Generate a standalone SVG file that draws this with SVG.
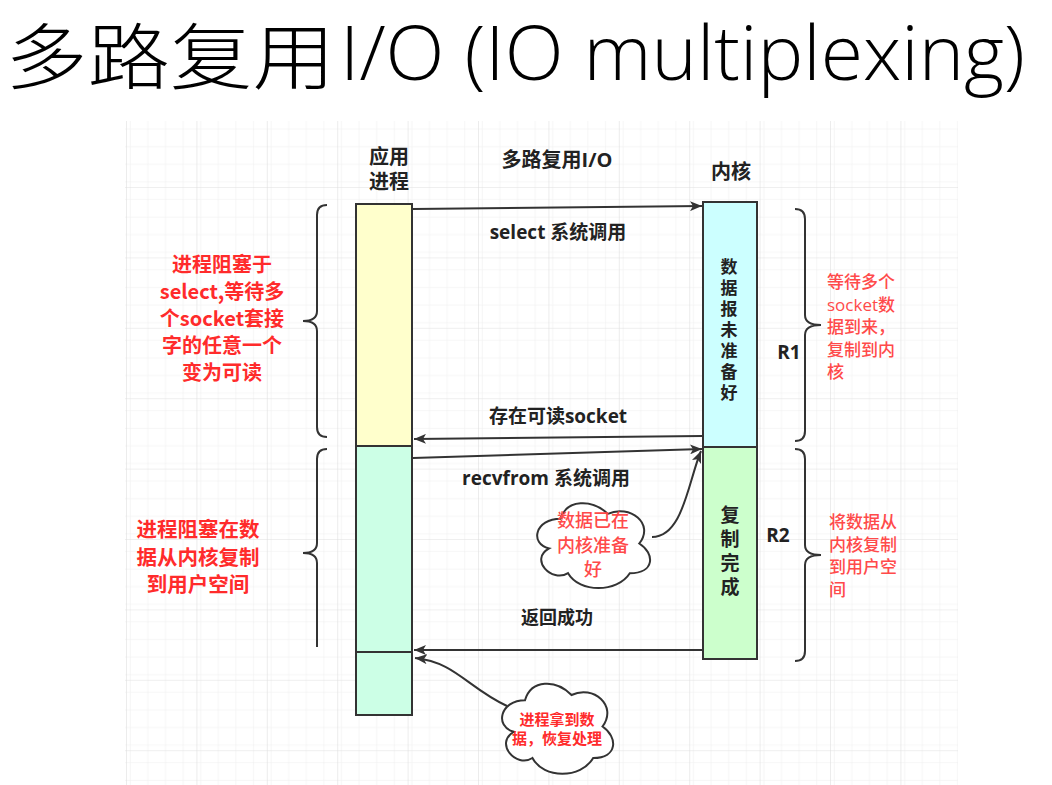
<svg xmlns="http://www.w3.org/2000/svg" width="1052" height="785" viewBox="0 0 1052 785">
<style>
.lbl{font-family:"Open Sans","Noto Sans CJK SC",sans-serif;font-weight:bold;fill:#222;}
.red{font-family:"Noto Sans CJK SC",sans-serif;font-weight:bold;fill:#ff2b2b;}
.red2{font-family:"Open Sans","Noto Sans CJK SC",sans-serif;font-weight:500;fill:#ff4a4a;}
.line{fill:none;stroke:#333;stroke-width:2;}
.brace{fill:none;stroke:#333;stroke-width:2;}
.box{stroke:#333;stroke-width:2;}
.cloud{fill:#fff;stroke:#333;stroke-width:2;}
</style>
<defs>
<pattern id="minor" x="127" y="117.6" width="17.6" height="17.6" patternUnits="userSpaceOnUse">
<path d="M17.6 0V17.6M0 17.6H17.6" fill="none" stroke="#eeeeee" stroke-width="1"/>
</pattern>
<pattern id="major" x="127" y="117.6" width="70.4" height="70.4" patternUnits="userSpaceOnUse">
<rect width="70.4" height="70.4" fill="url(#minor)"/>
<path d="M70.4 0V70.4M0 70.4H70.4" fill="none" stroke="#dfdfdf" stroke-width="1.2"/>
</pattern>
<marker id="arr" markerUnits="userSpaceOnUse" markerWidth="14" markerHeight="10" refX="12" refY="5" orient="auto">
<path d="M0,0 L12,5 L0,10 L3,5 Z" fill="#333"/>
</marker>
</defs>
<rect width="1052" height="785" fill="#fff"/>
<g id="title">
<text x="5" y="83" font-family="Noto Sans CJK SC,sans-serif" font-size="72" font-weight="300" fill="#000" textLength="330" lengthAdjust="spacingAndGlyphs">多路复用</text>
<text x="340" y="80" font-family="Open Sans,Liberation Sans,sans-serif" font-size="76" font-weight="300" fill="#000" textLength="685" lengthAdjust="spacingAndGlyphs">I/O (IO multiplexing)</text>
</g>
<rect x="125" y="121" width="833" height="664" fill="url(#major)"/>
<g id="headers">
<text class="lbl" x="389" y="164" font-size="20" text-anchor="middle">应用</text>
<text class="lbl" x="389" y="189" font-size="20" text-anchor="middle">进程</text>
<text class="lbl" x="557" y="167" font-size="20" text-anchor="middle">多路复用I/O</text>
<text class="lbl" x="731" y="179" font-size="20" text-anchor="middle">内核</text>
</g>
<g id="app-process">
<rect class="box" x="356" y="204" width="56" height="242" fill="#ffffcc"/>
<rect class="box" x="356" y="446" width="56" height="206" fill="#ccffe6"/>
<rect class="box" x="356" y="652" width="56" height="63" fill="#ccffe6"/>
</g>
<g id="kernel">
<rect class="box" x="703" y="202" width="54" height="245" fill="#ccffff"/>
<rect class="box" x="703" y="447" width="54" height="212" fill="#ccffcc"/>
<g class="lbl" font-size="17" text-anchor="middle">
<text x="729" y="273">数</text><text x="729" y="294">据</text><text x="729" y="315">报</text><text x="729" y="336">未</text><text x="729" y="357">准</text><text x="729" y="378">备</text><text x="729" y="399">好</text>
</g>
<g class="lbl" font-size="19" text-anchor="middle">
<text x="730" y="522">复</text><text x="730" y="546">制</text><text x="730" y="570">完</text><text x="730" y="594">成</text>
</g>
</g>
<g id="connectors">
<path class="line" d="M413,209 L702,206" marker-end="url(#arr)"/>
<path class="line" d="M702,436 L414,439" marker-end="url(#arr)"/>
<path class="line" d="M413,458 L702,449" marker-end="url(#arr)"/>
<path class="line" d="M702,650 L414,650" marker-end="url(#arr)"/>
<path class="line" d="M652,537 C683,537 688,482 701,451" marker-end="url(#arr)"/>
<path class="line" d="M507,706 C468,688 455,662 415,658" marker-end="url(#arr)"/>
</g>
<g id="edge-labels">
<text class="lbl" x="558" y="239" font-size="19" text-anchor="middle">select 系统调用</text>
<text class="lbl" x="558" y="423" font-size="19" text-anchor="middle">存在可读socket</text>
<text class="lbl" x="546" y="485" font-size="19" text-anchor="middle">recvfrom 系统调用</text>
<text class="lbl" x="557" y="624" font-size="18" text-anchor="middle">返回成功</text>
</g>
<g id="cloud-ready">
<path class="cloud" d="M560.5,518.75 C535.3,518.75 529,543.5 549.16,548.45 C529,559.34 551.68,583.1 568.06,573.2 C579.4,593 617.2,593 629.8,573.2 C655,573.2 655,553.4 639.25,543.5 C655,523.7 629.8,503.9 607.75,513.8 C592,498.95 566.8,498.95 560.5,518.75 Z"/>
<g class="red2" font-size="18" text-anchor="middle">
<text x="593" y="527">数据已在</text><text x="593" y="552">内核准备</text><text x="593" y="576">好</text>
</g>
</g>
<g id="cloud-resume">
<path class="cloud" d="M525,700.25 C500.2,700.25 494,726.5 513.84,731.75 C494,743.3 516.32,768.5 532.44,758 C543.6,779 580.8,779 593.2,758 C618,758 618,737 602.5,726.5 C618,705.5 593.2,684.5 571.5,695 C556,679.25 531.2,679.25 525,700.25 Z"/>
<g class="red" font-size="15" text-anchor="middle">
<text x="557" y="725">进程拿到数</text><text x="557" y="744">据，恢复处理</text>
</g>
</g>
<g id="brace-left-1">
<path class="brace" d="M327,205 Q317,205 317,215 L317,311 Q317,321 303,321 Q317,321 317,331 L317,427 Q317,437 327,437"/>
<g class="red" font-size="20" text-anchor="middle">
<text x="222" y="272">进程阻塞于</text><text x="222" y="299">select,等待多</text><text x="222" y="326">个socket套接</text><text x="222" y="353">字的任意一个</text><text x="222" y="380">变为可读</text>
</g>
</g>
<g id="brace-left-2">
<path class="brace" d="M327,449 Q317,449 317,459 L317,543 Q317,553 303,553 Q317,553 317,563 L317,647"/>
<g class="red" font-size="20.5" text-anchor="middle">
<text x="198" y="537">进程阻塞在数</text><text x="198" y="564.5">据从内核复制</text><text x="198" y="592">到用户空间</text>
</g>
</g>
<g id="brace-r1">
<path class="brace" d="M795,209 Q805,209 805,219 L805,315 Q805,325 821,325 Q805,325 805,335 L805,431 Q805,441 795,441"/>
<text class="lbl" x="789" y="359" font-size="19" text-anchor="middle">R1</text>
<g class="red2" font-size="17">
<text x="827" y="288">等待多个</text><text x="827" y="310.5">socket数</text><text x="827" y="333">据到来，</text><text x="827" y="355.5">复制到内</text><text x="827" y="378">核</text>
</g>
</g>
<g id="brace-r2">
<path class="brace" d="M795,449 Q805,449 805,459 L805,545 Q805,555 821,555 Q805,555 805,565 L805,651 Q805,661 795,661"/>
<text class="lbl" x="778" y="542" font-size="19" text-anchor="middle">R2</text>
<g class="red2" font-size="17">
<text x="829" y="528">将数据从</text><text x="829" y="550.5">内核复制</text><text x="829" y="573">到用户空</text><text x="829" y="595.5">间</text>
</g>
</g>
</svg>
